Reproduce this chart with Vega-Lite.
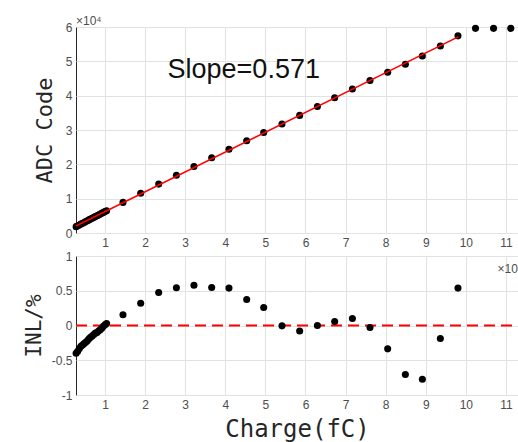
{
  "$schema": "https://vega.github.io/schema/vega-lite/v6.json",
  "background": "white",
  "padding": {"left": 22, "top": 14, "right": 0, "bottom": 0},
  "bounds": "flush",
  "spacing": 23,
  "config": {
    "view": {"stroke": "#262626", "strokeWidth": 1},
    "axis": {
      "labelFont": "Liberation Sans",
      "labelFontSize": 12,
      "labelColor": "#4d4d4d",
      "labelPadding": 4,
      "labelOverlap": false,
      "grid": true,
      "gridColor": "#e2e2e2",
      "gridWidth": 1,
      "domain": false,
      "ticks": false,
      "titleFont": "DejaVu Sans Mono",
      "titleFontWeight": "normal",
      "titleColor": "#262626"
    }
  },
  "vconcat": [
    {
      "width": 442,
      "height": 206,
      "title": {"text": "×10⁴", "anchor": "start", "frame": "group", "fontSize": 12, "font": "Liberation Sans", "fontWeight": "normal", "color": "#4d4d4d", "offset": -7},
      "layer": [
        {
          "data": {"values": [
            {"charge": 2800, "adc": 1849}, {"charge": 3200, "adc": 2098}, {"charge": 3600, "adc": 2351}, {"charge": 4000, "adc": 2599},
            {"charge": 4400, "adc": 2841}, {"charge": 4800, "adc": 3083}, {"charge": 5200, "adc": 3327}, {"charge": 5600, "adc": 3569},
            {"charge": 6000, "adc": 3817}, {"charge": 6400, "adc": 4059}, {"charge": 6800, "adc": 4301}, {"charge": 7200, "adc": 4544},
            {"charge": 7600, "adc": 4786}, {"charge": 8000, "adc": 5023}, {"charge": 8400, "adc": 5265}, {"charge": 8800, "adc": 5507},
            {"charge": 9200, "adc": 5751}, {"charge": 9600, "adc": 5998}, {"charge": 10000, "adc": 6241}, {"charge": 10400, "adc": 6483},
            {"charge": 14490, "adc": 8916}, {"charge": 18900, "adc": 11558}, {"charge": 23390, "adc": 14240}, {"charge": 27810, "adc": 16833},
            {"charge": 32190, "adc": 19386}, {"charge": 36610, "adc": 21923}, {"charge": 40920, "adc": 24408}, {"charge": 45340, "adc": 26872},
            {"charge": 49580, "adc": 29258}, {"charge": 54140, "adc": 31745}, {"charge": 58550, "adc": 34252}, {"charge": 62970, "adc": 36852},
            {"charge": 67280, "adc": 39375}, {"charge": 71700, "adc": 41954}, {"charge": 76090, "adc": 44418}, {"charge": 80500, "adc": 46796},
            {"charge": 84910, "adc": 49138}, {"charge": 89150, "adc": 51551}, {"charge": 93640, "adc": 54474}, {"charge": 98030, "adc": 57417},
            {"charge": 102400, "adc": 59600}, {"charge": 106900, "adc": 59600}, {"charge": 111200, "adc": 59600}
          ]},
          "mark": {"type": "circle", "size": 50, "color": "black", "opacity": 1, "clip": false},
          "encoding": {
            "x": {"field": "charge", "type": "quantitative",
                  "scale": {"domain": [2770, 113000], "nice": false, "zero": false},
                  "axis": {"title": null, "values": [10000, 20000, 30000, 40000, 50000, 60000, 70000, 80000, 90000, 100000, 110000], "labelExpr": "datum.value / 10000"}},
            "y": {"field": "adc", "type": "quantitative",
                  "scale": {"domain": [0, 60000], "nice": false},
                  "axis": {"title": "ADC Code", "titleFontSize": 22, "titlePadding": 9, "tickCount": 6, "labelOverlap": false, "labelExpr": "datum.value / 10000"}}
          }
        },
        {
          "data": {"values": [{"charge": 2770, "adc": 2050}, {"charge": 98200, "adc": 57200}]},
          "mark": {"type": "line", "color": "#ff0000", "strokeWidth": 1.6},
          "encoding": {
            "x": {"field": "charge", "type": "quantitative"},
            "y": {"field": "adc", "type": "quantitative"}
          }
        },
        {
          "data": {"values": [{"charge": 25600, "adc": 47500, "label": "Slope=0.571"}]},
          "mark": {"type": "text", "align": "left", "baseline": "middle", "fontSize": 27, "font": "Liberation Sans", "color": "#111111"},
          "encoding": {
            "x": {"field": "charge", "type": "quantitative"},
            "y": {"field": "adc", "type": "quantitative"},
            "text": {"field": "label"}
          }
        }
      ]
    },
    {
      "width": 442,
      "height": 139,
      "layer": [
        {
          "data": {"values": [{"charge": 2770, "inl": 0}, {"charge": 113000, "inl": 0}]},
          "mark": {"type": "line", "color": "#ff0000", "strokeDash": [11, 6], "strokeWidth": 2},
          "encoding": {
            "x": {"field": "charge", "type": "quantitative"},
            "y": {"field": "inl", "type": "quantitative"}
          }
        },
        {
          "data": {"values": [
            {"charge": 2800, "inl": -0.40}, {"charge": 3200, "inl": -0.37}, {"charge": 3600, "inl": -0.33}, {"charge": 4000, "inl": -0.30},
            {"charge": 4400, "inl": -0.28}, {"charge": 4800, "inl": -0.26}, {"charge": 5200, "inl": -0.24}, {"charge": 5600, "inl": -0.22},
            {"charge": 6000, "inl": -0.19}, {"charge": 6400, "inl": -0.17}, {"charge": 6800, "inl": -0.15}, {"charge": 7200, "inl": -0.13},
            {"charge": 7600, "inl": -0.11}, {"charge": 8000, "inl": -0.10}, {"charge": 8400, "inl": -0.08}, {"charge": 8800, "inl": -0.06},
            {"charge": 9200, "inl": -0.04}, {"charge": 9600, "inl": -0.01}, {"charge": 10000, "inl": 0.01}, {"charge": 10400, "inl": 0.03},
            {"charge": 14490, "inl": 0.154}, {"charge": 18900, "inl": 0.32}, {"charge": 23390, "inl": 0.475}, {"charge": 27810, "inl": 0.543},
            {"charge": 32190, "inl": 0.58}, {"charge": 36610, "inl": 0.548}, {"charge": 40920, "inl": 0.538}, {"charge": 45340, "inl": 0.375},
            {"charge": 49580, "inl": 0.26}, {"charge": 54140, "inl": -0.005}, {"charge": 58550, "inl": -0.08}, {"charge": 62970, "inl": 0.0},
            {"charge": 67280, "inl": 0.058}, {"charge": 71700, "inl": 0.10}, {"charge": 76090, "inl": -0.03}, {"charge": 80500, "inl": -0.336},
            {"charge": 84910, "inl": -0.706}, {"charge": 89150, "inl": -0.773}, {"charge": 93640, "inl": -0.187}, {"charge": 98030, "inl": 0.538}
          ]},
          "mark": {"type": "circle", "size": 50, "color": "black", "opacity": 1, "clip": false},
          "encoding": {
            "x": {"field": "charge", "type": "quantitative",
                  "scale": {"domain": [2770, 113000], "nice": false, "zero": false},
                  "axis": {"title": "Charge(fC)", "titleFontSize": 24, "titlePadding": 7, "values": [10000, 20000, 30000, 40000, 50000, 60000, 70000, 80000, 90000, 100000, 110000], "labelExpr": "datum.value / 10000"}},
            "y": {"field": "inl", "type": "quantitative",
                  "scale": {"domain": [-1, 1], "nice": false},
                  "axis": {"title": "INL/%", "titleFontSize": 21, "titlePadding": 7, "tickCount": 4, "labelOverlap": false, "labelExpr": "datum.value < 0 ? '-' + format(-datum.value, '~g') : format(datum.value, '~g')"}}
          }
        },
        {
          "data": {"values": [{"charge": 107900, "inl": 0.82, "label": "×10⁴"}]},
          "mark": {"type": "text", "align": "left", "baseline": "middle", "fontSize": 12, "font": "Liberation Sans", "color": "#4d4d4d", "clip": true},
          "encoding": {
            "x": {"field": "charge", "type": "quantitative"},
            "y": {"field": "inl", "type": "quantitative"},
            "text": {"field": "label"}
          }
        }
      ]
    }
  ]
}
